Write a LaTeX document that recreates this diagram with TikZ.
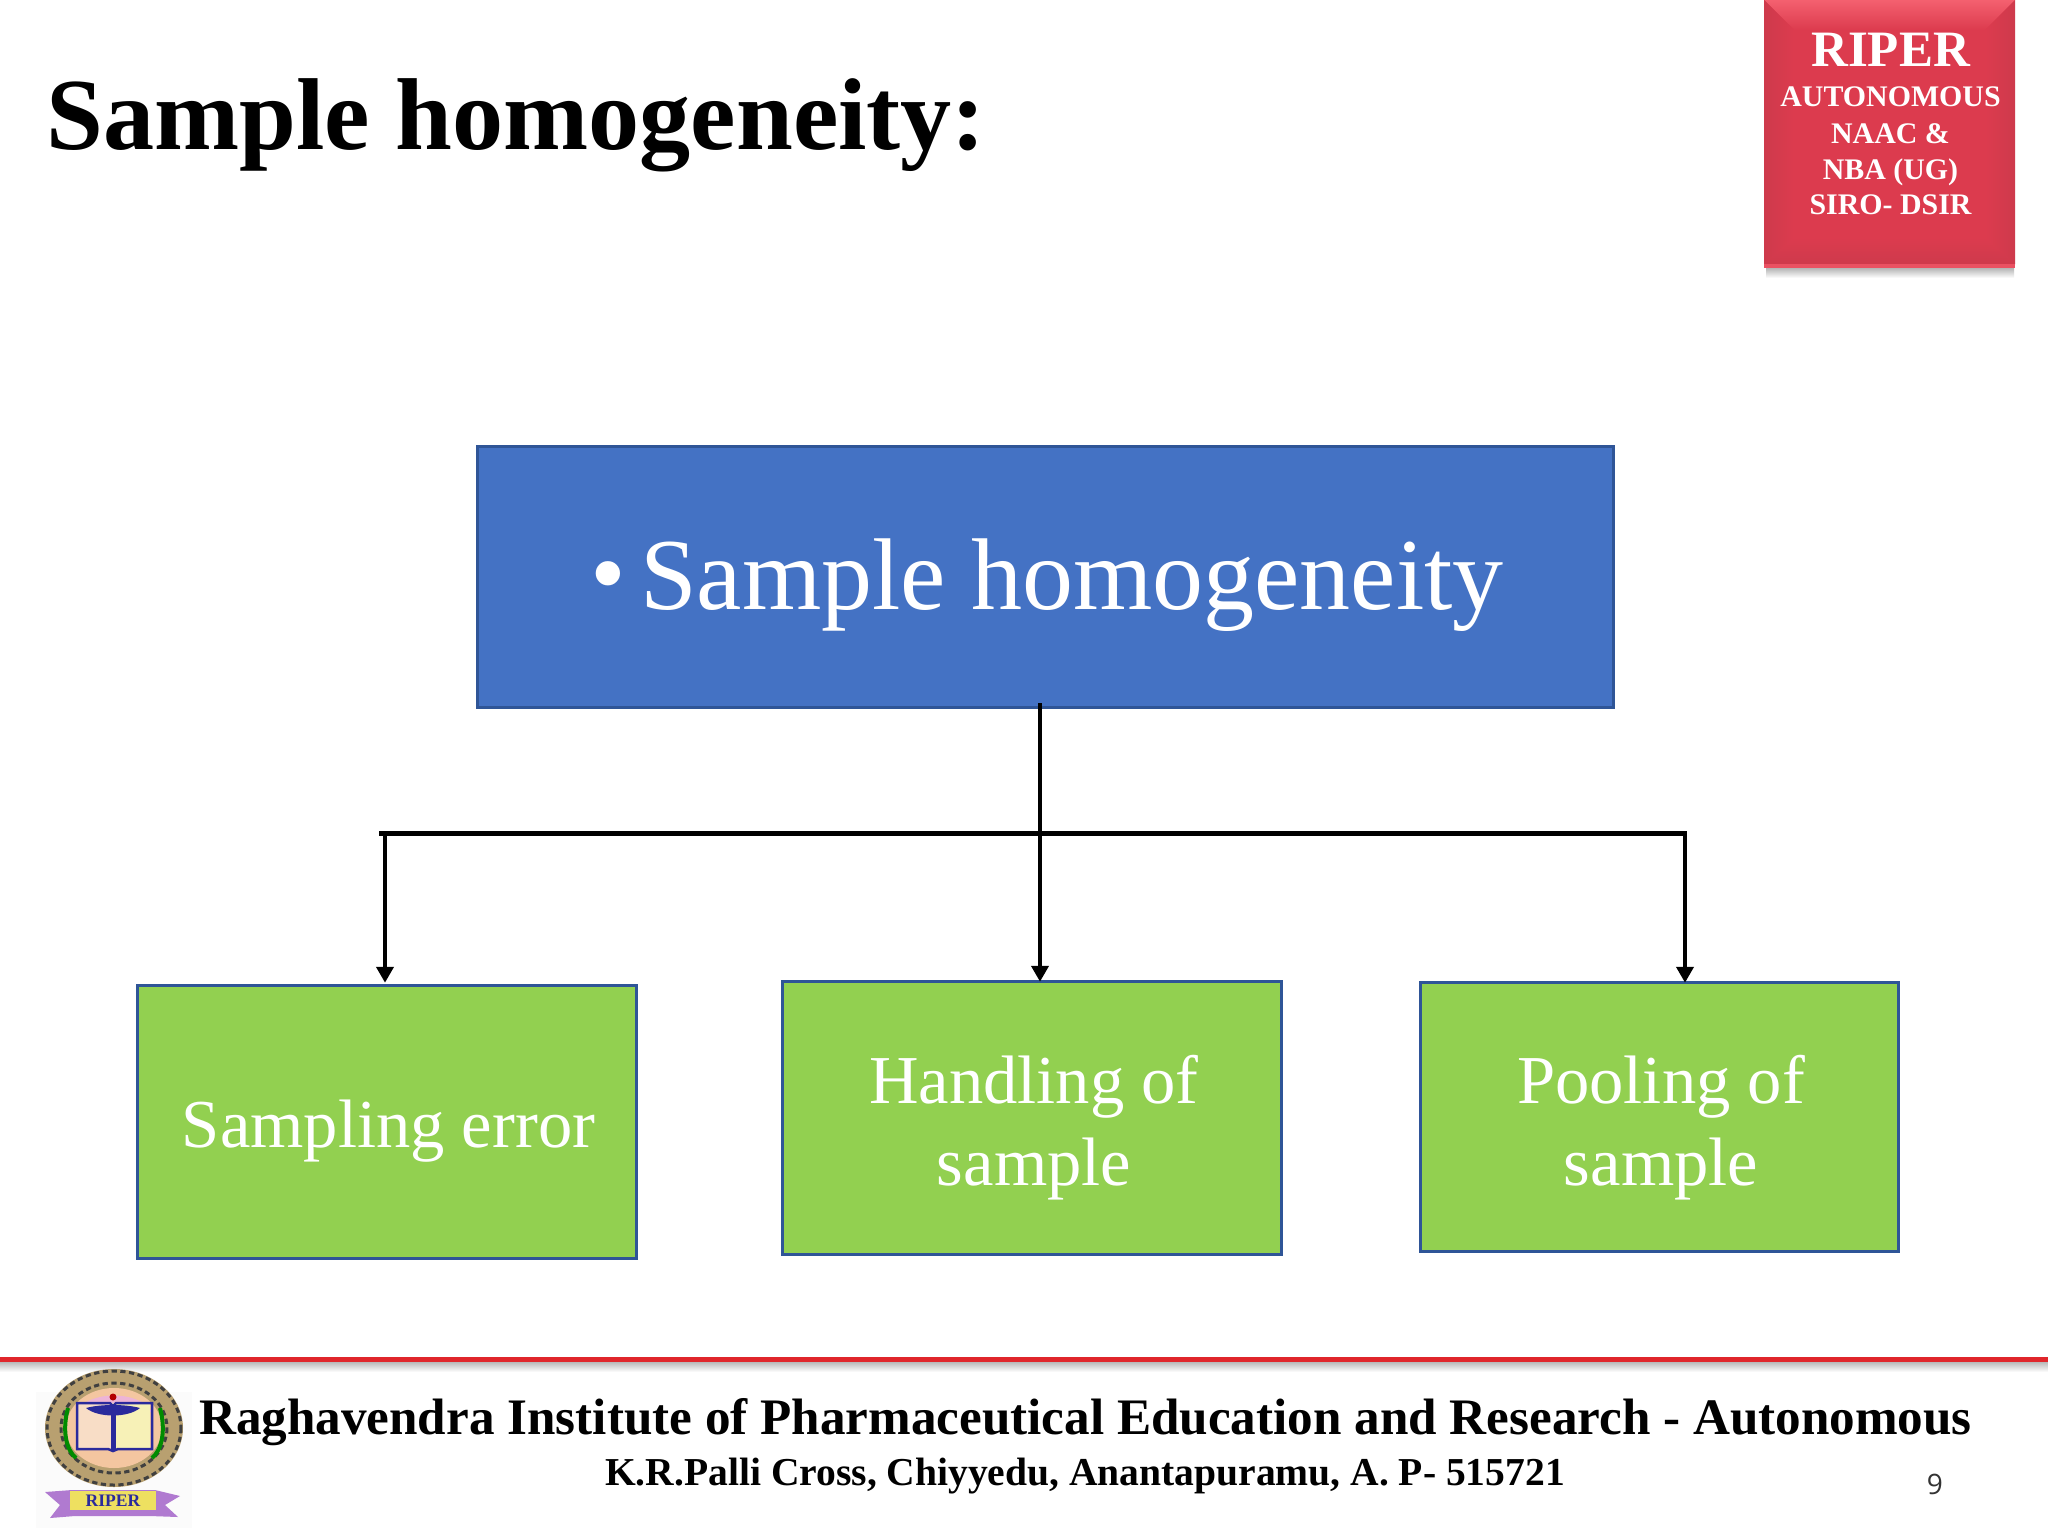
\documentclass[tikz,border=0pt]{standalone}
\usepackage{fontspec}
\setmainfont{Liberation Serif}
\newfontfamily\numfont{Open Sans}
\usetikzlibrary{arrows.meta,shadings}
\definecolor{boxblue}{HTML}{4472C4}
\definecolor{boxgreen}{HTML}{92D050}
\definecolor{boxedge}{HTML}{2F5597}
\definecolor{badge}{HTML}{DC3B4E}
\definecolor{badgehi}{HTML}{F4606F}
\definecolor{badgelo}{HTML}{CE3A4C}
\definecolor{footred}{HTML}{E0262B}
\definecolor{sealtan}{HTML}{B8A070}
\definecolor{sealpeach}{HTML}{F4C6A0}
\definecolor{sealpink}{HTML}{EDB4D6}
\definecolor{sealblue}{HTML}{2A2A9C}
\definecolor{sealpurple}{HTML}{B07AD0}
\definecolor{sealyellow}{HTML}{EEE060}
\tikzset{
  x=0.01cm,y=-0.01cm,
  boxbase/.style={draw=boxedge,line width=3*0.01cm,outer sep=0pt,inner sep=0pt},
  topbox/.style={boxbase,fill=boxblue},
  subbox/.style={boxbase,fill=boxgreen},
  toplabel/.style={inner sep=0pt,text=white,align=center,font=\fontsize{29}{35}\selectfont},
  sublabel/.style={inner sep=0pt,text=white,align=center,font=\fontsize{19.5}{23.3}\selectfont},
  bus/.style={line width=5*0.01cm,black},
  feed/.style={line width=4.5*0.01cm,black,-{Triangle[length=16*0.01cm,width=17*0.01cm]}},
  badgetext/.style={anchor=base,inner sep=0pt,text=white,font=\bfseries\fontsize{8.5}{10}\selectfont},
}
\begin{document}
\begin{tikzpicture}
\useasboundingbox (0,0) rectangle (2048,1536);
\fill[white] (0,0) rectangle (2048,1536);
% title
\node[anchor=base west,inner sep=0pt,font=\bfseries\fontsize{29.05}{35}\selectfont] (title) at (46,149) {Sample homogeneity:};
% badge
\shade[top color=black!35,bottom color=white] (1766,266) rectangle (2014,278);
\fill[badge] (1764,0) rectangle (2015,268);
\shade[top color=badgehi,bottom color=badge] (1764,0) -- (2015,0) -- (1985,30) -- (1794,30) -- cycle;
\shade[left color=badgelo,right color=badge] (1764,0) -- (1794,30) -- (1794,238) -- (1764,264) -- cycle;
\shade[left color=badge,right color=badgelo] (2015,0) -- (1985,30) -- (1985,238) -- (2015,264) -- cycle;
\shade[top color=badge,bottom color=badgelo] (1794,238) -- (1985,238) -- (2015,264) -- (1764,264) -- cycle;
\fill[badgehi!60!badge] (1764,264) rectangle (2015,268);
\node[badgetext,font=\bfseries\fontsize{14.5}{17}\selectfont] (b1) at (1890.5,66) {RIPER};
\node[badgetext] (b2) at (1890.5,106) {AUTONOMOUS};
\node[badgetext] (b3) at (1890.5,143) {NAAC \&};
\node[badgetext] (b4) at (1890.5,179) {NBA (UG)};
\node[badgetext] (b5) at (1890.5,214) {SIRO- DSIR};
% boxes
\node[topbox,minimum width=1135.5*0.01cm,minimum height=260.5*0.01cm] (top) at (1045.5,577) {};
\node[subbox,minimum width=498.5*0.01cm,minimum height=272.5*0.01cm] (left) at (387,1122) {};
\node[subbox,minimum width=498.5*0.01cm,minimum height=272.5*0.01cm] (mid) at (1032,1118) {};
\node[subbox,minimum width=477.5*0.01cm,minimum height=268.5*0.01cm] (right) at (1659.5,1117) {};
\node[toplabel] (toptext) at (1047,585) {\raisebox{0.02em}{\textbullet}\hspace{0.14em}Sample homogeneity};
\node[sublabel] (lefttext) at (388.5,1131) {Sampling error};
\node[sublabel] (midtext) at (1034,1128) {Handling of\\sample};
\node[sublabel] (righttext) at (1661,1128) {Pooling of\\sample};
% connectors
\coordinate (busl) at (379,833);
\coordinate (busr) at (1687,833);
\coordinate (jl) at (385,833);
\coordinate (jm) at (1040,833);
\coordinate (jr) at (1685,833);
\draw[bus] (busl) -- (busr);
\draw[feed,shorten <=-4*0.01cm] (top.south -| jm) -- (mid.north -| jm);
\draw[feed,shorten >=3*0.01cm] (jl) -- (left.north -| jl);
\draw[feed] (jr) -- (right.north -| jr);
% footer
\shade[top color=black!30,bottom color=white] (0,1361) rectangle (2048,1372);
\fill[footred] (0,1356.5) rectangle (2048,1361.5);
\node[anchor=base,inner sep=0pt,font=\bfseries\fontsize{14.55}{17}\selectfont] (f1) at (1085.5,1434) {Raghavendra Institute of Pharmaceutical Education and Research - Autonomous};
\node[anchor=base,inner sep=0pt,font=\bfseries\fontsize{11.25}{14}\selectfont] (f2) at (1085,1485.5) {K.R.Palli Cross, Chiyyedu, Anantapuramu, A. P- 515721};
\node[anchor=center,inner sep=0pt,font=\numfont\fontsize{8}{10}\selectfont,text=black!80] (pg) at (1935,1484) {9};
% seal
\fill[black!1.5] (36,1392) rectangle (192,1528);
\fill[sealtan] (114,1428) ellipse [x radius=69,y radius=59];
\draw[black!75,line width=3*0.01cm,dash pattern=on 1.5pt off 1pt] (114,1428) ellipse [x radius=67,y radius=57];
\draw[black!75,line width=3*0.01cm,dash pattern=on 1.5pt off 1pt] (114,1428) ellipse [x radius=53,y radius=45];
\fill[sealpeach] (114,1428) ellipse [x radius=48,y radius=40];
\fill[sealpink] (76,1412) .. controls (88,1390) and (140,1390) .. (152,1412) -- cycle;
\fill[sealpeach!60!white] (78,1403) rectangle (113,1449);
\fill[sealyellow!45!white] (113,1403) rectangle (150,1449);
\draw[sealblue,line width=2.5*0.01cm] (77,1449) -- (77,1403) -- (110,1403) -- (113,1406) -- (116,1403) -- (152,1403) -- (152,1449) -- (118,1449) -- (113,1451) -- (108,1449) -- cycle;
\draw[sealblue,line width=5*0.01cm] (113,1405) -- (113,1450);
\fill[sealblue] (86,1408) .. controls (100,1404) and (126,1404) .. (140,1408) .. controls (128,1418) and (98,1418) .. (86,1408) -- cycle;
\fill[red!70!black] (113,1397) circle [radius=3.5];
\draw[green!55!black,line width=4*0.01cm] (68,1408) .. controls (62,1430) and (66,1450) .. (76,1458);
\draw[green!55!black,line width=4*0.01cm] (160,1408) .. controls (166,1430) and (162,1450) .. (152,1458);
\fill[sealpurple] (45,1492) -- (72,1490) -- (155,1490) -- (180,1496) -- (165,1505) -- (178,1517) -- (150,1516) -- (75,1516) -- (50,1518) -- (60,1505) -- cycle;
\fill[sealyellow] (70,1491) rectangle (156,1510);
\node[inner sep=0pt,font=\bfseries\fontsize{5}{6}\selectfont,text=sealblue] (sealname) at (113,1501) {RIPER};
\end{tikzpicture}
\end{document}
